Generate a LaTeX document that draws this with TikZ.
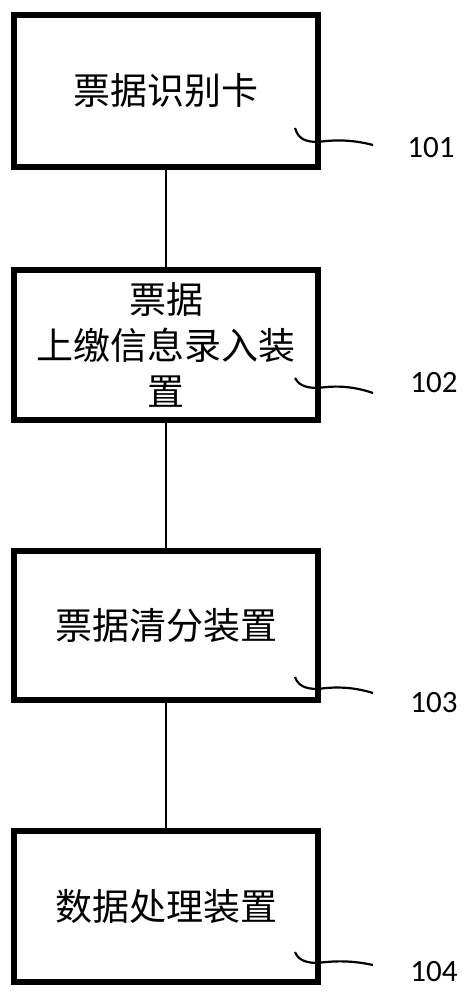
\documentclass[tikz,border=0pt]{standalone}
\usepackage{fontspec}
\newfontfamily\cjk{Noto Sans CJK SC}
\newfontfamily\numfont{Carlito}
\usetikzlibrary{positioning}

\begin{document}
\begin{tikzpicture}[x=1pt,y=-1pt,
	box/.style={draw,line width=6pt,minimum width=304pt,inner sep=0pt,align=center,
		font=\cjk\fontsize{37}{46}\selectfont},
	link/.style={line width=2.5pt},
	wave/.style={line width=2.2pt},
	tag/.style={font=\numfont\fontsize{31}{31}\selectfont}]
	\useasboundingbox (0,0) rectangle (467,1000);
	% boxes
	\node[box,minimum height=152pt] (card) at (166,91) {票据识别卡};
	\node[box,minimum height=150pt] (entry) at (166,345) {票据\\上缴信息录入装\\置};
	\node[box,minimum height=149pt] (sort) at (166,625.5) {票据清分装置};
	\node[box,minimum height=151pt] (proc) at (166,906.5) {数据处理装置};
	% connectors
	\draw[link] (card) -- (entry);
	\draw[link] (entry) -- (sort);
	\draw[link] (sort) -- (proc);
	% reference numbers
	\node[tag] (n101) at (431,148) {101};
	\node[tag] (n102) at (434,383) {102};
	\node[tag] (n103) at (434,703) {103};
	\node[tag] (n104) at (434,972) {104};
	\foreach \b/\s/\m/\e in {card/128/142/145,entry/378/388/393,sort/677/689/693,proc/952/963/965}{
		\draw[wave] (295,\s) .. controls (298,\m-4) and (304,\m) .. (318,\m)
			.. controls (332,\m-2) and (350,\m-3) .. (373,\e);
	}
\end{tikzpicture}
\end{document}
